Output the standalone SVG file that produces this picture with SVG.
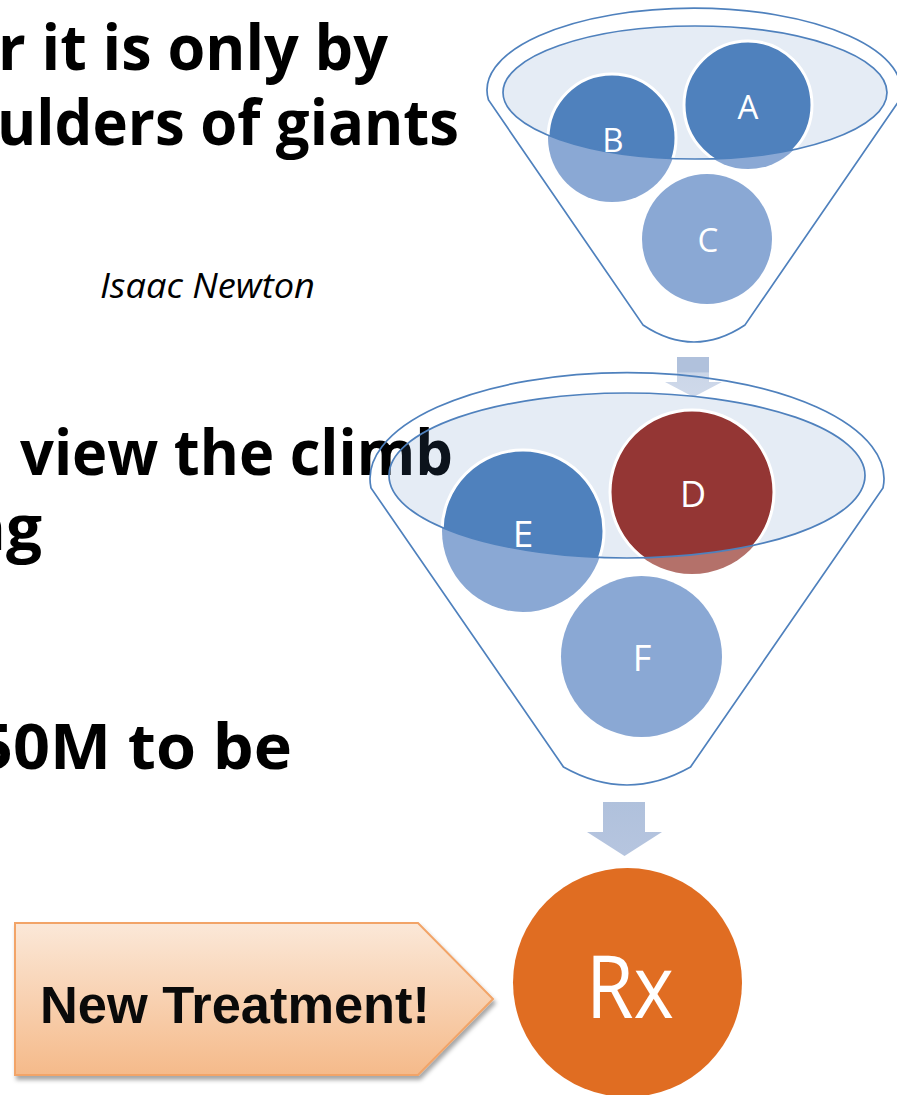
<svg xmlns="http://www.w3.org/2000/svg" width="897" height="1095" viewBox="0 0 897 1095">
<style>
.quote{font-family:"Open Sans","Noto Sans","Liberation Sans",sans-serif;font-weight:700;font-size:63px;fill:#000}
.author{font-family:"Open Sans","Noto Sans","Liberation Sans",sans-serif;font-style:italic;font-size:35px;fill:#000}
.outline{fill:none;stroke:#4F81BD;stroke-width:1.7}
.rim{fill:#4F81BD;fill-opacity:0.15}
.rimline{fill:none;stroke:#4F81BD;stroke-width:1.7}
.blue-lt{fill:#8AA8D4}
.blue-dk{fill:#4F81BD;stroke:#fff;stroke-width:3}
.red-lt{fill:#B4716A}
.red-dk{fill:#943634;stroke:#fff;stroke-width:3}
.lbl{font-family:"Open Sans","Noto Sans","Liberation Sans",sans-serif;fill:#fff;text-anchor:middle}
.arrow{stroke:none}
</style>
<defs>
<clipPath id="clipRim1"><ellipse cx="695" cy="92.5" rx="192" ry="66.5"/></clipPath>
<clipPath id="clipRim2"><ellipse cx="627" cy="475.5" rx="238" ry="82.5"/></clipPath>
<linearGradient id="arrowGrad1" gradientUnits="userSpaceOnUse" x1="0" y1="357" x2="0" y2="397">
<stop offset="0" stop-color="#B0C1DC"/><stop offset="0.37" stop-color="#B0C1DC"/><stop offset="0.4" stop-color="#CBD6E8"/><stop offset="1" stop-color="#CFD9EA"/>
</linearGradient>
<linearGradient id="arrowGrad2" gradientUnits="userSpaceOnUse" x1="0" y1="802" x2="0" y2="856">
<stop offset="0" stop-color="#B0C1DC"/><stop offset="1" stop-color="#B6C5DF"/>
</linearGradient>
<linearGradient id="pentGrad" x1="0" y1="0" x2="0" y2="1">
<stop offset="0" stop-color="#FBE8D8"/><stop offset="1" stop-color="#F5BA8A"/>
</linearGradient>
<filter id="shadow" x="-10%" y="-10%" width="120%" height="130%">
<feDropShadow dx="2" dy="4" stdDeviation="2" flood-color="#000" flood-opacity="0.35"/>
</filter>
</defs>

<g id="quote-text">
<text class="quote" x="-2" y="70" textLength="390" lengthAdjust="spacingAndGlyphs">r it is only by</text>
<text class="quote" x="-3" y="145" textLength="462" lengthAdjust="spacingAndGlyphs">ulders of giants</text>
<text class="author" x="100" y="298" textLength="215" lengthAdjust="spacingAndGlyphs">Isaac Newton</text>
<text class="quote" x="20" y="475" textLength="433" lengthAdjust="spacingAndGlyphs">view the climb</text>
<text class="quote" x="-36" y="550" textLength="78" lengthAdjust="spacingAndGlyphs">ng</text>
<text class="quote" x="-24" y="769" textLength="316" lengthAdjust="spacingAndGlyphs">50M to be</text>
</g>

<g id="connectors">
<polygon id="arrow1" class="arrow" fill="url(#arrowGrad1)" points="677,357 709,357 709,382 722,382 693.5,397 665,382 677,382"/>
<polygon id="arrow2" class="arrow" fill="url(#arrowGrad2)" points="603,802 645,802 645,832 662,832 624.5,856 587,832 603,832"/>
</g>

<g id="funnel1">
<path class="outline" d="M488.5,100 A207,82 0 1 1 899.5,100 L745,325 Q694,359 643,325 Z"/>
<ellipse class="rim" cx="695" cy="92.5" rx="192" ry="66.5"/>
</g>
<g id="circleA">
<circle class="blue-lt" cx="748" cy="105" r="64"/>
<circle class="blue-dk" cx="748" cy="105" r="64" clip-path="url(#clipRim1)"/>
</g>
<g id="circleB">
<circle class="blue-lt" cx="612" cy="138" r="64"/>
<circle class="blue-dk" cx="612" cy="138" r="64" clip-path="url(#clipRim1)"/>
</g>
<g id="circleC">
<circle class="blue-lt" cx="707" cy="239" r="65"/>
</g>
<ellipse class="rimline" cx="695" cy="92.5" rx="192" ry="66.5"/>
<g id="labels1">
<text class="lbl" x="748" y="119" font-size="33">A</text>
<text class="lbl" x="613" y="152" font-size="33">B</text>
<text class="lbl" x="708" y="252" font-size="33">C</text>
</g>

<g id="funnel2">
<path class="outline" d="M371,488 A257,106 0 1 1 883,488 L690.5,767 Q627,803 563.5,767 Z"/>
<ellipse class="rim" cx="627" cy="475.5" rx="238" ry="82.5"/>
</g>
<g id="circleE">
<circle class="blue-lt" cx="523" cy="531" r="81"/>
<circle class="blue-dk" cx="523" cy="531" r="81" clip-path="url(#clipRim2)"/>
</g>
<g id="circleD">
<circle class="red-lt" cx="692" cy="492" r="82"/>
<circle class="red-dk" cx="692" cy="492" r="82" clip-path="url(#clipRim2)"/>
</g>
<g id="circleF">
<circle class="blue-lt" cx="641.5" cy="656.5" r="80.5"/>
</g>
<ellipse class="rimline" cx="627" cy="475.5" rx="238" ry="82.5"/>
<g id="labels2">
<text class="lbl" x="523" y="547" font-size="37">E</text>
<text class="lbl" x="693" y="507" font-size="36">D</text>
<text class="lbl" x="642" y="671" font-size="36">F</text>
</g>

<g id="new-treatment">
<polygon points="15,923 418,923 493,999 418,1075 15,1075" fill="url(#pentGrad)" stroke="#F2A467" stroke-width="2" filter="url(#shadow)"/>
<text x="40" y="1023" font-family="Liberation Sans, Arial, sans-serif" font-weight="700" font-size="51" fill="#0A0A0A" textLength="390" lengthAdjust="spacingAndGlyphs">New Treatment!</text>
</g>

<g id="rx">
<circle cx="627.5" cy="982.5" r="114.5" fill="#E06D22"/>
<text x="630" y="1018" font-family="Open Sans, Liberation Sans, sans-serif" font-weight="400" font-size="88" fill="#fff" text-anchor="middle" textLength="88" lengthAdjust="spacingAndGlyphs">Rx</text>
</g>
</svg>
